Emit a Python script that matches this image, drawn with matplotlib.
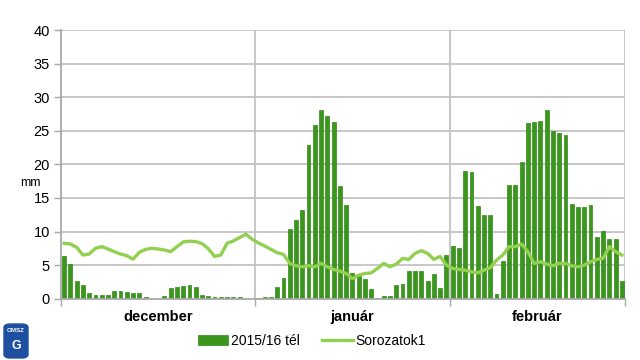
import matplotlib
matplotlib.use("Agg")
import matplotlib.pyplot as plt
from matplotlib.patches import FancyBboxPatch
import numpy as np

plt.rcParams['font.family'] = ['Liberation Sans', 'DejaVu Sans']

months = ["december", "január", "február"]
month_days = [31, 31, 28]

dec_bars = [6.3, 5.2, 2.6, 2.0, 0.8, 0.5, 0.5, 0.5, 1.1, 1.1, 0.95, 0.8, 0.8, 0.2, 0, 0,
            0.35, 1.6, 1.8, 1.9, 2.0, 1.8, 0.5, 0.35, 0.3, 0.2, 0.2, 0.2, 0.2, 0, 0]
jan_bars = [0.15, 0.25, 0.25, 1.7, 3.15, 10.45, 11.75, 13.2, 22.95, 25.85, 28.15, 27.15,
            26.25, 16.85, 13.95, 3.9, 3.35, 3.0, 1.4, 0.15, 0.4, 0.4, 2.05, 2.2, 4.15,
            4.05, 4.05, 2.6, 3.65, 1.6, 6.5]
feb_bars = [7.85, 7.55, 19.05, 18.9, 13.8, 12.5, 12.5, 0.75, 5.65, 17.0, 17.0, 20.35,
            26.15, 26.25, 26.45, 28.15, 24.95, 24.7, 24.4, 14.05, 13.65, 13.65, 13.95,
            9.15, 10.15, 8.85, 8.85, 2.6]

dec_line = [8.25, 8.15, 7.65, 6.5, 6.65, 7.5, 7.75, 7.4, 7.0, 6.65, 6.4, 5.9, 6.9, 7.35,
            7.5, 7.4, 7.25, 7.0, 7.75, 8.45, 8.55, 8.5, 8.2, 7.45, 6.3, 6.5, 8.25, 8.6,
            9.1, 9.6, 8.85]
jan_line = [8.3, 7.85, 7.35, 6.85, 6.6, 5.25, 4.9, 4.75, 4.9, 4.75, 5.25, 4.75, 4.35,
            4.1, 3.75, 3.0, 3.5, 3.75, 3.85, 4.5, 5.25, 4.75, 5.15, 6.0, 5.85, 6.75, 7.15,
            6.75, 5.85, 6.3, 5.0]
feb_line = [4.5, 4.35, 4.25, 4.0, 3.85, 4.25, 4.6, 5.75, 6.5, 7.75, 7.75, 8.15, 7.0, 5.25,
            5.5, 5.15, 4.9, 5.25, 5.25, 4.9, 4.75, 5.0, 5.5, 5.85, 6.0, 7.75, 7.0, 6.5]

bars = dec_bars + jan_bars + feb_bars
line = dec_line + jan_line + feb_line
series_names = ["2015/16 tél", "Sorozatok1"]
yticks = [0, 5, 10, 15, 20, 25, 30, 35, 40]

n = len(bars)
x = np.arange(n)

fig = plt.figure(figsize=(6.4, 3.6), dpi=100)
ax = fig.add_axes([61/640, 1-298.7/360, (625-61)/640, (298.7-30)/360])

grid_c = "#c3c3c3"
ax.set_xlim(-0.5, n - 0.5)
ax.set_ylim(0, 40)
for yv in yticks[1:]:
    ax.axhline(yv, color=grid_c, lw=1.3, zorder=0)

bounds = np.cumsum([0] + month_days) - 0.5
for b in bounds[1:]:
    ax.axvline(b, color=grid_c, lw=1.3, zorder=0)

h_bar = ax.bar(x, bars, width=0.62, color="#3a961c", edgecolor="#2f8a17", linewidth=0.5,
               zorder=2, label=series_names[0])
h_line, = ax.plot(x, line, color="#92d050", lw=2.4, zorder=3, label=series_names[1],
                  solid_joinstyle="round")

for s in ["top", "right"]:
    ax.spines[s].set_visible(False)
for s in ["left", "bottom"]:
    ax.spines[s].set_color("#a8a8a8")
    ax.spines[s].set_linewidth(1.3)

ax.set_yticks(yticks)
ax.set_yticklabels([str(v) for v in yticks], fontsize=10.5)
ax.tick_params(axis="y", length=5, color="#a8a8a8", width=1, pad=3)

ax.set_xticks(bounds)
ax.set_xticklabels([])
ax.tick_params(axis="x", length=5, color="#a8a8a8", width=1)

centers = [(bounds[i] + bounds[i+1]) / 2 for i in range(len(months))]
for c, m in zip(centers, months):
    ax.text(c, -2.7, m, ha="center", va="center", fontsize=10.5, fontweight="bold",
            transform=ax.transData, clip_on=False)

fig.text(30/640, 1-183/360, "mm", ha="center", va="center", fontsize=9)

leg = fig.legend([h_bar, h_line], series_names, loc="center",
                 bbox_to_anchor=(312/640, 1-341/360), ncol=2, frameon=False,
                 fontsize=10, handlelength=2.2, handletextpad=0.2, columnspacing=1.6)

# OMSZ logo approximation
logo = FancyBboxPatch((4/640, 1-358/360), 24/640, 34/360, boxstyle="round,pad=0.0,rounding_size=0.01",
                      transform=fig.transFigure, facecolor="#1f4fa0", edgecolor="#1f4fa0")
fig.patches.append(logo)
fig.text(16/640, 1-330/360, "OMSZ", color="white", fontsize=4.5, fontweight="bold",
         ha="center", va="center")
fig.text(16/640, 1-346/360, "G", color="white", fontsize=9, fontweight="bold",
         ha="center", va="center")

fig.savefig("out.png", dpi=100)
